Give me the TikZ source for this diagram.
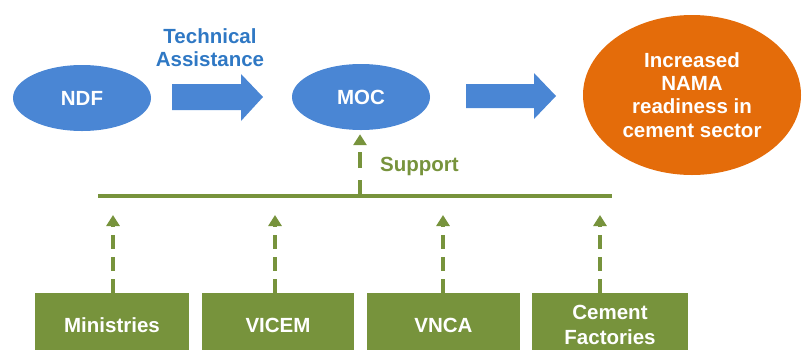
\documentclass[tikz,border=0pt]{standalone}
\usepackage{fontspec}
\setmainfont{Liberation Sans}
\usetikzlibrary{arrows.meta,shapes.geometric}
\definecolor{ndfblue}{HTML}{4A86D4}
\definecolor{tablue}{HTML}{2F78C4}
\definecolor{orng}{HTML}{E46C0A}
\definecolor{grn}{HTML}{77933C}
\tikzset{
  txt/.style={font=\bfseries\fontsize{20.5}{23.3}\selectfont, inner sep=0pt, align=center},
  oval/.style={txt, ellipse, fill=ndfblue, text=white, minimum width=138pt, minimum height=66pt},
  goal/.style={txt, ellipse, fill=orng, text=white, minimum width=218pt, minimum height=160pt},
  gbox/.style={txt, rectangle, fill=grn, text=white, minimum height=64pt, font=\bfseries\fontsize{20.5}{25}\selectfont},
  fatarrow/.style={fill=ndfblue},
  dasharr/.style={draw=grn, line width=4.5pt, dash pattern=on 14pt off 8pt, -{Triangle[width=13pt,length=11pt]}},
  barline/.style={draw=grn, line width=3.5pt}
}
\begin{document}
\begin{tikzpicture}[x=1pt,y=-1pt]
\useasboundingbox (0,0) rectangle (802,349);
\clip (0,0) rectangle (802,349);
% top row
\node[oval] (ndf) at (82,98) {NDF};
\node[oval] (moc) at (361,97) {MOC};
\node[goal] (goal) at (692,95) {Increased\\NAMA\\readiness in\\cement sector};
\node[txt, text=tablue] (ta) at (210,48) {Technical\\Assistance};
% fat arrows
\fill[fatarrow] (172,84) -- (241,84) -- (241,74) -- (263,97) -- (241,121) -- (241,110) -- (172,110) -- cycle;
\fill[fatarrow] (466,84) -- (534,84) -- (534,73) -- (556,96) -- (534,119) -- (534,108) -- (466,108) -- cycle;
% boxes
\node[gbox, minimum width=154pt] (min) at (112,325) {Ministries};
\node[gbox, minimum width=152pt] (vicem) at (278,325) {VICEM};
\node[gbox, minimum width=153pt] (vnca) at (443.5,325) {VNCA};
\node[gbox, minimum width=156pt] (cf) at (610,325) {Cement\\Factories};
% bar
\coordinate (barL) at (98,196);
\coordinate (barR) at (612,196);
\coordinate (barM) at (360,196);
\draw[barline] (barL) -- (barR);
\coordinate (a1) at (113,196);
\coordinate (a2) at (275,196);
\coordinate (a3) at (443,196);
\coordinate (a4) at (600,196);
\draw[dasharr, shorten >=19pt] (min.north -| a1) -- (a1);
\draw[dasharr, shorten >=19pt] (vicem.north -| a2) -- (a2);
\draw[dasharr, shorten >=19pt] (vnca.north -| a3) -- (a3);
\draw[dasharr, shorten >=19pt] (cf.north -| a4) -- (a4);
% support
\draw[dasharr, dash pattern=on 16pt off 12pt, shorten >=4pt] (barM) -- (moc.south -| barM);
\node[txt, text=grn, anchor=west] (sup) at (380,166) {Support};
\end{tikzpicture}
\end{document}
